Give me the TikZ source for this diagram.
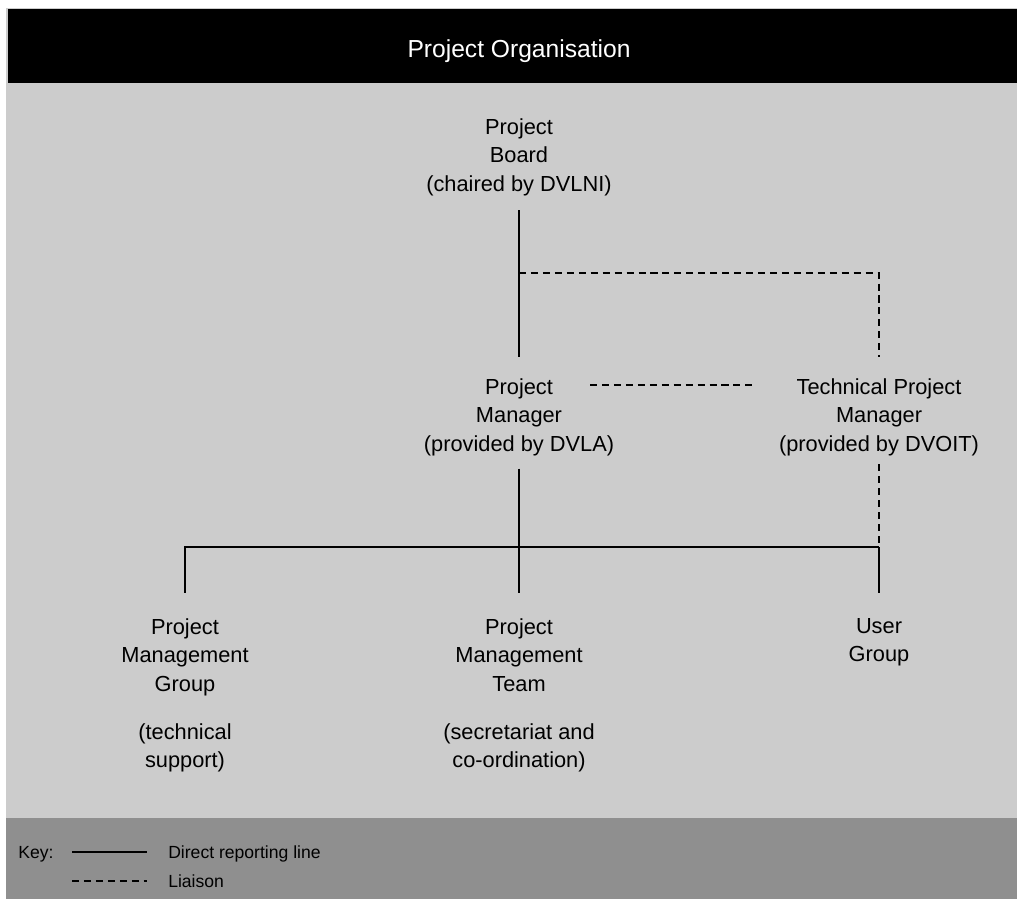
\documentclass[tikz,border=0pt]{standalone}
\usepackage{fontspec}
\setmainfont{Liberation Sans}
\definecolor{paper}{gray}{0.80}
\definecolor{keyband}{gray}{0.56}
\tikzset{
  unit/.style={align=center, inner sep=0pt, anchor=north,
    font=\fontsize{15.5}{20.3}\selectfont},
  keytext/.style={inner sep=0pt, anchor=base west, font=\fontsize{12.5}{15}\selectfont},
  report/.style={line width=1.3pt},
  liaison/.style={line width=1.1pt, dash pattern=on 5pt off 3.5pt},
}
\begin{document}
\begin{tikzpicture}[x=0.025cm, y=-0.025cm]
\useasboundingbox (0,0) rectangle (1017,899);
\fill[white] (0,0) rectangle (1017,899);
\fill[paper] (6,8) rectangle (1017,899);
\fill[black] (8,9) rectangle (1017,83);
\fill[keyband] (6,818) rectangle (1017,899);
\node[text=white, font=\fontsize{17.5}{21}\selectfont, anchor=base] (title) at (519,58) {Project Organisation};

% units
\node[unit] (board) at (519,118) {Project\\Board\\(chaired by DVLNI)};
\node[unit] (pm) at (519,378) {Project\\Manager\\(provided by DVLA)};
\node[unit] (tpm) at (879,378) {Technical Project\\Manager\\(provided by DVOIT)};
\node[unit] (pmg) at (185,618) {Project\\Management\\Group\\[14pt](technical\\support)};
\node[unit] (pmt) at (519,618) {Project\\Management\\Team\\[14pt](secretariat and\\co-ordination)};
\node[unit] (ug) at (879,618) {User\\Group};

\coordinate (split) at (519,273);
\coordinate (busR) at (879,547);
\coordinate (pmlink) at (590,385);
\coordinate (tpmlink) at (752,385);

% reporting lines
\draw[report, shorten <=10pt, shorten >=15pt] (board.south) -- (pm.north);
\draw[report, shorten <=9pt, shorten >=18pt] (pm.south) -- (pmt.north);
\draw[report, shorten <=18pt] (pmg.north) |- (busR);
\draw[report, shorten >=18pt] (busR) -- (ug.north);

% liaison
\draw[liaison, shorten >=15pt] (split) -| (tpm.north);
\draw[liaison] (pmlink) -- (tpmlink);
\draw[liaison, shorten <=6pt] (tpm.south) -- (busR);

% key
\node[keytext] (key) at (18,858) {Key:};
\foreach \y/\s/\txt [count=\i] in {852/report/Direct reporting line, 881/liaison/Liaison}{
  \draw[\s] (72,\y) -- (147,\y);
  \node[keytext] (key\i) at (168,{\y+6}) {\txt};
}
\end{tikzpicture}
\end{document}
